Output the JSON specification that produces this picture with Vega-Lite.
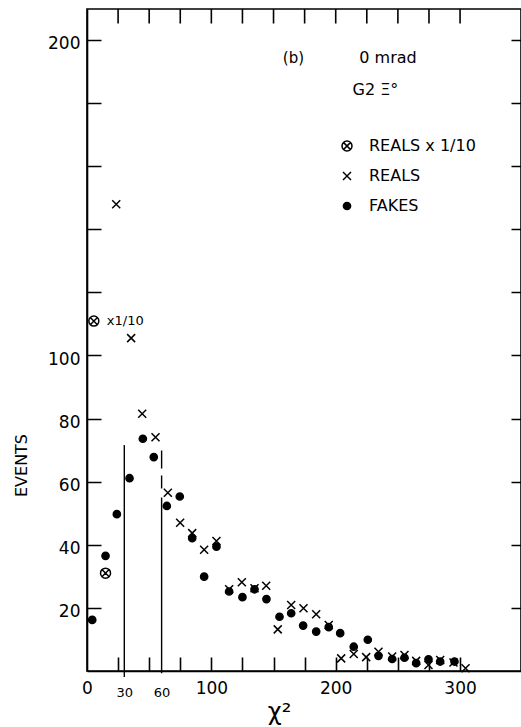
{
  "$schema": "https://vega.github.io/schema/vega-lite/v6.json",
  "width": 434,
  "height": 662,
  "autosize": {"type": "none"},
  "padding": {"left": 87, "top": 9, "right": 0, "bottom": 56},
  "background": "white",
  "config": {
    "view": {"stroke": "black", "strokeWidth": 1.6},
    "font": "DejaVu Sans",
    "axis": {
      "grid": false,
      "domainColor": "black",
      "domainWidth": 1.6,
      "tickColor": "black",
      "tickWidth": 1.6,
      "labelColor": "black",
      "labelFont": "DejaVu Sans",
      "titleColor": "black",
      "titleFont": "DejaVu Sans",
      "titleFontWeight": "normal",
      "labelFlush": false,
      "labelOverlap": false,
      "labelBound": false
    }
  },
  "datasets": {
    "counts": [
      {"chi2": 4.2, "events": 16.2, "series": "FAKES"},
      {"chi2": 14.9, "events": 36.5, "series": "FAKES"},
      {"chi2": 24.0, "events": 49.7, "series": "FAKES"},
      {"chi2": 34.2, "events": 61.1, "series": "FAKES"},
      {"chi2": 44.9, "events": 73.6, "series": "FAKES"},
      {"chi2": 53.7, "events": 67.8, "series": "FAKES"},
      {"chi2": 64.2, "events": 52.3, "series": "FAKES"},
      {"chi2": 74.6, "events": 55.3, "series": "FAKES"},
      {"chi2": 84.6, "events": 42.1, "series": "FAKES"},
      {"chi2": 94.2, "events": 29.9, "series": "FAKES"},
      {"chi2": 104.1, "events": 39.4, "series": "FAKES"},
      {"chi2": 114.3, "events": 25.2, "series": "FAKES"},
      {"chi2": 125.0, "events": 23.4, "series": "FAKES"},
      {"chi2": 134.7, "events": 25.9, "series": "FAKES"},
      {"chi2": 144.3, "events": 22.8, "series": "FAKES"},
      {"chi2": 154.8, "events": 17.2, "series": "FAKES"},
      {"chi2": 164.2, "events": 18.3, "series": "FAKES"},
      {"chi2": 173.8, "events": 14.4, "series": "FAKES"},
      {"chi2": 184.3, "events": 12.5, "series": "FAKES"},
      {"chi2": 194.4, "events": 13.9, "series": "FAKES"},
      {"chi2": 203.6, "events": 12.0, "series": "FAKES"},
      {"chi2": 214.5, "events": 7.7, "series": "FAKES"},
      {"chi2": 225.8, "events": 9.9, "series": "FAKES"},
      {"chi2": 234.4, "events": 4.8, "series": "FAKES"},
      {"chi2": 245.4, "events": 3.8, "series": "FAKES"},
      {"chi2": 255.3, "events": 4.2, "series": "FAKES"},
      {"chi2": 264.7, "events": 2.5, "series": "FAKES"},
      {"chi2": 274.6, "events": 3.7, "series": "FAKES"},
      {"chi2": 284.0, "events": 3.0, "series": "FAKES"},
      {"chi2": 295.5, "events": 3.0, "series": "FAKES"},
      {"chi2": 23.5, "events": 147.9, "series": "REALS"},
      {"chi2": 35.5, "events": 105.5, "series": "REALS"},
      {"chi2": 44.4, "events": 81.5, "series": "REALS"},
      {"chi2": 55.1, "events": 74.1, "series": "REALS"},
      {"chi2": 65.0, "events": 56.5, "series": "REALS"},
      {"chi2": 74.9, "events": 47.0, "series": "REALS"},
      {"chi2": 84.6, "events": 43.7, "series": "REALS"},
      {"chi2": 94.2, "events": 38.4, "series": "REALS"},
      {"chi2": 104.1, "events": 41.2, "series": "REALS"},
      {"chi2": 114.3, "events": 25.9, "series": "REALS"},
      {"chi2": 124.5, "events": 28.1, "series": "REALS"},
      {"chi2": 134.7, "events": 26.2, "series": "REALS"},
      {"chi2": 144.1, "events": 27.0, "series": "REALS"},
      {"chi2": 153.4, "events": 13.2, "series": "REALS"},
      {"chi2": 164.2, "events": 20.9, "series": "REALS"},
      {"chi2": 174.1, "events": 19.9, "series": "REALS"},
      {"chi2": 184.3, "events": 18.0, "series": "REALS"},
      {"chi2": 194.4, "events": 14.6, "series": "REALS"},
      {"chi2": 204.4, "events": 4.0, "series": "REALS"},
      {"chi2": 214.5, "events": 5.4, "series": "REALS"},
      {"chi2": 224.5, "events": 4.4, "series": "REALS"},
      {"chi2": 234.4, "events": 6.1, "series": "REALS"},
      {"chi2": 245.4, "events": 4.6, "series": "REALS"},
      {"chi2": 255.3, "events": 5.1, "series": "REALS"},
      {"chi2": 264.7, "events": 3.2, "series": "REALS"},
      {"chi2": 274.6, "events": 1.9, "series": "REALS"},
      {"chi2": 284.0, "events": 3.5, "series": "REALS"},
      {"chi2": 294.7, "events": 2.7, "series": "REALS"},
      {"chi2": 304.4, "events": 0.9, "series": "REALS"},
      {"chi2": 5.5, "events": 110.9, "series": "REALS x 1/10"},
      {"chi2": 14.9, "events": 31.0, "series": "REALS x 1/10"}
    ],
    "cuts": [
      {"cut": 30},
      {"cut": 60}
    ],
    "frameTicks": [
      {"at": 25}, {"at": 50}, {"at": 75}, {"at": 100}, {"at": 125}, {"at": 150},
      {"at": 175}, {"at": 200}, {"at": 225}, {"at": 250}, {"at": 275}, {"at": 300}
    ]
  },
  "resolve": {"axis": {"x": "independent", "y": "independent"}},
  "layer": [
    {
      "data": {"name": "counts"},
      "mark": {"type": "point", "filled": false, "strokeWidth": 1.5, "size": 100, "opacity": 1},
      "encoding": {
        "x": {
          "field": "chi2", "type": "quantitative",
          "scale": {"domain": [0, 349], "nice": false, "zero": false},
          "axis": {
            "orient": "bottom", "values": [25, 50, 75, 100, 125, 150, 175, 200, 225, 250, 275, 300],
            "domain": true, "labels": false, "title": null, "tickSize": -14
          }
        },
        "y": {
          "field": "events", "type": "quantitative",
          "scale": {"domain": [0, 209.8], "nice": false, "zero": false},
          "axis": {
            "orient": "left", "values": [20, 40, 60, 80, 100, 120, 140, 160, 180, 200],
            "domain": true, "ticks": false, "labels": false, "title": null,
            "grid": true, "gridColor": "black", "gridWidth": 1.6, "gridOpacity": 1, "gridDash": [14, 410, 10]
          }
        },
        "shape": {
          "field": "series", "type": "nominal",
          "scale": {
            "domain": ["REALS x 1/10", "REALS", "FAKES"],
            "range": [
              "M-1,0A1,1,0,1,1,1,0A1,1,0,1,1,-1,0ZM-0.62,-0.62L0.62,0.62M-0.62,0.62L0.62,-0.62",
              "M-0.8,-0.8L0.8,0.8M-0.8,0.8L0.8,-0.8",
              "M-0.72,0A0.72,0.72,0,1,1,0.72,0A0.72,0.72,0,1,1,-0.72,0Z"
            ]
          },
          "legend": {
            "orient": "none", "legendX": 252, "legendY": 129, "title": null,
            "labelFontSize": 16, "labelFont": "DejaVu Sans", "labelColor": "black",
            "symbolStrokeWidth": 1.5, "symbolSize": 100,
            "rowPadding": 14, "labelOffset": 14, "padding": 0
          }
        },
        "fill": {
          "field": "series", "type": "nominal",
          "scale": {"domain": ["REALS x 1/10", "REALS", "FAKES"], "range": ["white", "black", "black"]},
          "legend": {
            "orient": "none", "legendX": 252, "legendY": 129, "title": null,
            "labelFontSize": 16, "labelFont": "DejaVu Sans", "labelColor": "black",
            "symbolStrokeWidth": 1.5, "symbolSize": 100,
            "rowPadding": 14, "labelOffset": 14, "padding": 0
          }
        },
        "stroke": {
          "field": "series", "type": "nominal",
          "scale": {"domain": ["REALS x 1/10", "REALS", "FAKES"], "range": ["black", "black", "black"]},
          "legend": {
            "orient": "none", "legendX": 252, "legendY": 129, "title": null,
            "labelFontSize": 16, "labelFont": "DejaVu Sans", "labelColor": "black",
            "symbolStrokeWidth": 1.5, "symbolSize": 100,
            "rowPadding": 14, "labelOffset": 14, "padding": 0
          }
        }
      }
    },
    {
      "data": {"name": "counts"},
      "transform": [{"filter": "datum.series === 'REALS x 1/10' && datum.events > 100"}],
      "mark": {"type": "text", "text": "x1/10", "align": "left", "baseline": "middle", "dx": 13, "fontSize": 13, "color": "black"},
      "encoding": {
        "x": {
          "field": "chi2", "type": "quantitative",
          "scale": {"domain": [0, 349], "nice": false, "zero": false},
          "axis": {
            "orient": "bottom", "values": [0, 30, 60, 100, 200, 300],
            "domain": false, "ticks": false,
            "labelFontSize": {"condition": {"test": "datum.value == 30 || datum.value == 60", "value": 13}, "value": 17},
            "labelPadding": {"condition": {"test": "datum.value == 30 || datum.value == 60", "value": 15}, "value": 9},
            "labelBaseline": "top",
            "title": "χ²", "titleFontSize": 24, "titleX": 192, "titleY": 48, "titleAlign": "center", "titleBaseline": "alphabetic", "titleAngle": 0
          }
        },
        "y": {
          "field": "events", "type": "quantitative",
          "scale": {"domain": [0, 209.8], "nice": false, "zero": false},
          "axis": {
            "orient": "left", "values": [20, 40, 60, 80, 100, 200],
            "domain": false, "ticks": false,
            "labelFontSize": 17, "labelPadding": 7, "labelOffset": 4,
            "title": "EVENTS", "titleFontSize": 16, "titleX": -66, "titleY": 456, "titleAngle": -90, "titleAlign": "center", "titleBaseline": "middle"
          }
        }
      }
    },
    {
      "data": {"name": "frameTicks"},
      "mark": {"type": "rule", "color": "black", "strokeWidth": 1.6},
      "encoding": {
        "x": {"field": "at", "type": "quantitative", "scale": {"domain": [0, 349], "nice": false, "zero": false}, "axis": null},
        "y": {"datum": 209.8, "type": "quantitative", "scale": {"domain": [0, 209.8], "nice": false, "zero": false}, "axis": null},
        "y2": {"datum": 205.2}
      }
    },
    {
      "data": {"name": "cuts"},
      "transform": [{"filter": "datum.cut == 30"}],
      "mark": {"type": "rule", "color": "black", "strokeWidth": 1.4},
      "encoding": {
        "x": {"field": "cut", "type": "quantitative", "scale": {"domain": [0, 349], "nice": false, "zero": false}, "axis": null},
        "y": {"datum": 71.6, "type": "quantitative", "scale": {"domain": [0, 209.8], "nice": false, "zero": false}, "axis": null},
        "y2": {"datum": -1.9}
      }
    },
    {
      "data": {"name": "cuts"},
      "transform": [{"filter": "datum.cut == 60"}],
      "mark": {"type": "rule", "color": "black", "strokeWidth": 1.4, "strokeDash": [18, 7, 13, 9, 200]},
      "encoding": {
        "x": {"field": "cut", "type": "quantitative", "scale": {"domain": [0, 349], "nice": false, "zero": false}, "axis": null},
        "y": {"datum": 69.9, "type": "quantitative", "scale": {"domain": [0, 209.8], "nice": false, "zero": false}, "axis": null},
        "y2": {"datum": -0.7}
      }
    },
    {
      "data": {"values": [{}]},
      "mark": {"type": "text", "text": "(b)", "align": "center", "baseline": "middle", "fontSize": 15, "color": "black"},
      "encoding": {
        "x": {"datum": 166, "type": "quantitative", "scale": {"domain": [0, 349], "nice": false, "zero": false}, "axis": null},
        "y": {"datum": 194.2, "type": "quantitative", "scale": {"domain": [0, 209.8], "nice": false, "zero": false}, "axis": null}
      }
    },
    {
      "data": {"values": [{}]},
      "mark": {"type": "text", "text": "0 mrad", "align": "left", "baseline": "middle", "fontSize": 16, "color": "black"},
      "encoding": {
        "x": {"datum": 219, "type": "quantitative", "scale": {"domain": [0, 349], "nice": false, "zero": false}, "axis": null},
        "y": {"datum": 194.2, "type": "quantitative", "scale": {"domain": [0, 209.8], "nice": false, "zero": false}, "axis": null}
      }
    },
    {
      "data": {"values": [{}]},
      "mark": {"type": "text", "text": "G2 Ξ°", "align": "left", "baseline": "middle", "fontSize": 16, "color": "black"},
      "encoding": {
        "x": {"datum": 213.5, "type": "quantitative", "scale": {"domain": [0, 349], "nice": false, "zero": false}, "axis": null},
        "y": {"datum": 184.1, "type": "quantitative", "scale": {"domain": [0, 209.8], "nice": false, "zero": false}, "axis": null}
      }
    }
  ]
}
